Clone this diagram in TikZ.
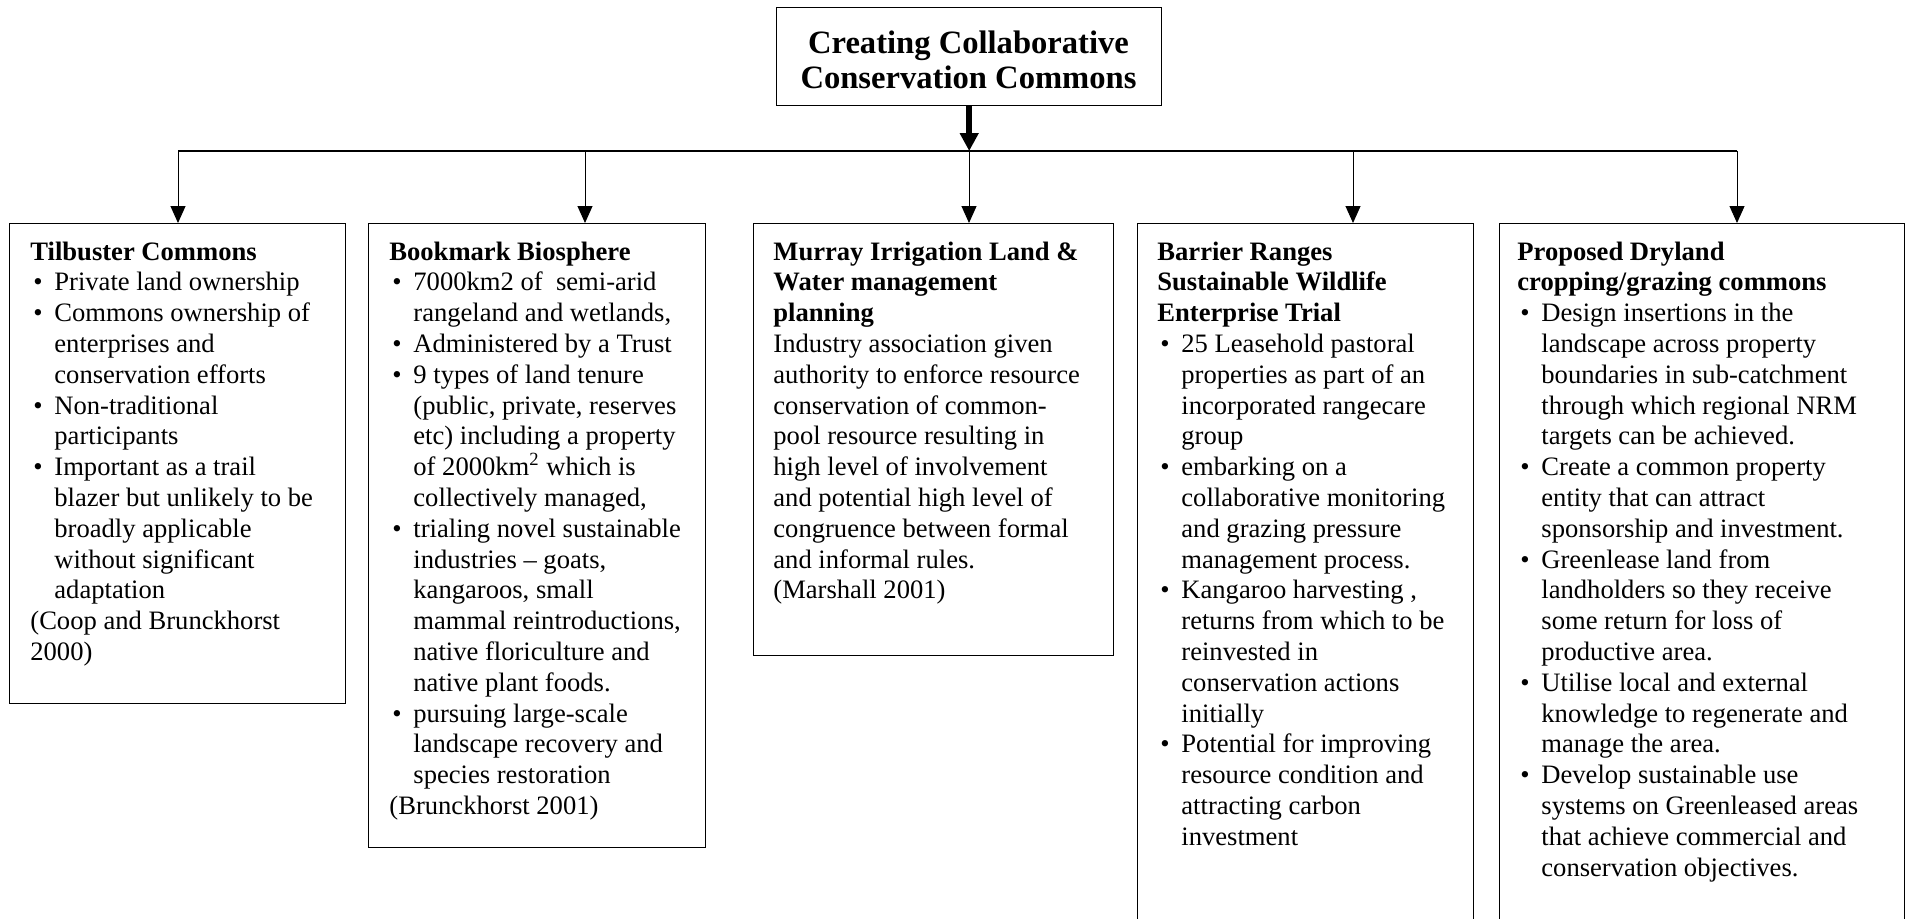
\documentclass[tikz,border=0pt]{standalone}
\usepackage{fontspec}
\setmainfont{Liberation Serif}
\usetikzlibrary{arrows.meta}
\newenvironment{blist}{\begin{list}{\textbullet}{\setlength\leftmargin{12pt}\setlength\labelwidth{12pt}\setlength\labelsep{0pt}\setlength\itemsep{0pt}\setlength\parsep{0pt}\setlength\topsep{0pt}\setlength\partopsep{0pt}\setlength\itemindent{0pt}\setlength\listparindent{0pt}\setlength\rightmargin{0pt}\def\makelabel##1{\hspace*{1.5pt}##1\hfil}}}{\end{list}}
\tikzset{
  frame/.style={draw, line width=0.7pt, inner sep=0pt, anchor=north west},
  txt/.style={inner sep=0pt, anchor=base west, font=\fontsize{13.3}{15.4}\selectfont},
  ttl/.style={inner sep=0pt, anchor=base, font=\fontsize{16.3}{17.5}\selectfont\bfseries},
  arr/.style={line width=0.5pt, -{Triangle[length=8.5pt,width=7.5pt]}},
  thickarr/.style={line width=3pt, -{Triangle[length=9pt,width=9pt]}},
  bus/.style={line width=0.6pt}
}
\begin{document}
\begin{tikzpicture}[x=0.5pt,y=-0.5pt]
\clip (0,0) rectangle (1910,918);
\fill[white] (0,0) rectangle (1910,918);
% frames
\node[frame, minimum width=192.5pt, minimum height=49pt] (top) at (776,7) {};
\node[frame, minimum width=168pt, minimum height=240pt] (tilb) at (9,223) {};
\node[frame, minimum width=168.5pt, minimum height=312pt] (book) at (368,223) {};
\node[frame, minimum width=180pt, minimum height=216pt] (murr) at (753,223) {};
\node[frame, minimum width=168pt, minimum height=358.5pt] (barr) at (1137,223) {};
\node[frame, minimum width=202.5pt, minimum height=358.5pt] (prop) at (1499,223) {};
% title
\node[ttl] (title) at (968.5,53) {\begin{minipage}[t]{185pt}\centering Creating Collaborative\\Conservation Commons\end{minipage}};
% texts
\node[txt] (tilbT) at (30,260) {\begin{minipage}[t]{156pt}\raggedright
\textbf{Tilbuster Commons}\par
\begin{blist}
\item Private land ownership
\item Commons ownership of\newline enterprises and\newline conservation efforts
\item Non-traditional\newline participants
\item Important as a trail\newline blazer but unlikely to be\newline broadly applicable\newline without significant\newline adaptation
\end{blist}
(Coop and Brunckhorst\newline 2000)
\end{minipage}};
\node[txt] (bookT) at (389,260) {\begin{minipage}[t]{157pt}\raggedright
\textbf{Bookmark Biosphere}\par
\begin{blist}
\item 7000km2 of\ \ semi-arid\newline rangeland and wetlands,
\item Administered by a Trust
\item 9 types of land tenure\newline (public, private, reserves\newline etc) including a property\newline of 2000km\textsuperscript{2} which is\newline collectively managed,
\item trialing novel sustainable\newline industries -- goats,\newline kangaroos, small\newline mammal reintroductions,\newline native floriculture and\newline native plant foods.
\item pursuing large-scale\newline landscape recovery and\newline species restoration
\end{blist}
(Brunckhorst 2001)
\end{minipage}};
\node[txt] (murrT) at (773,260) {\begin{minipage}[t]{169pt}\raggedright
\textbf{Murray Irrigation Land \&\newline Water management\newline planning}\par
Industry association given\newline authority to enforce resource\newline conservation of common-\newline pool resource resulting in\newline high level of involvement\newline and potential high level of\newline congruence between formal\newline and informal rules.\par
(Marshall 2001)
\end{minipage}};
\node[txt] (barrT) at (1157,260) {\begin{minipage}[t]{157pt}\raggedright
\textbf{Barrier Ranges\newline Sustainable Wildlife\newline Enterprise Trial}\par
\begin{blist}
\item 25 Leasehold pastoral\newline properties as part of an\newline incorporated rangecare\newline group
\item embarking on a\newline collaborative monitoring\newline and grazing pressure\newline management process.
\item Kangaroo harvesting ,\newline returns from which to be\newline reinvested in\newline conservation actions\newline initially
\item Potential for improving\newline resource condition and\newline attracting carbon\newline investment
\end{blist}
\end{minipage}};
\node[txt] (propT) at (1517,260) {\begin{minipage}[t]{192pt}\raggedright
\textbf{Proposed Dryland\newline cropping/grazing commons}\par
\begin{blist}
\item Design insertions in the\newline landscape across property\newline boundaries in sub-catchment\newline through which regional NRM\newline targets can be achieved.
\item Create a common property\newline entity that can attract\newline sponsorship and investment.
\item Greenlease land from\newline landholders so they receive\newline some return for loss of\newline productive area.
\item Utilise local and external\newline knowledge to regenerate and\newline manage the area.
\item Develop sustainable use\newline systems on Greenleased areas\newline that achieve commercial and\newline conservation objectives.
\end{blist}
\end{minipage}};
% connectors
\coordinate (busL) at (178,151);
\coordinate (busR) at (1737,151);
\coordinate (d1) at (178,151);
\coordinate (d2) at (585,151);
\coordinate (d3) at (969,151);
\coordinate (d4) at (1353,151);
\coordinate (d5) at (1737,151);
\draw[bus] (busL) -- (busR);
\draw[thickarr] (top.south) -- (top.south |- busL);
\draw[arr] (d1) -- (d1 |- tilb.north);
\draw[arr] (d2) -- (d2 |- book.north);
\draw[arr] (d3) -- (d3 |- murr.north);
\draw[arr] (d4) -- (d4 |- barr.north);
\draw[arr] (d5) -- (d5 |- prop.north);
\end{tikzpicture}
\end{document}
